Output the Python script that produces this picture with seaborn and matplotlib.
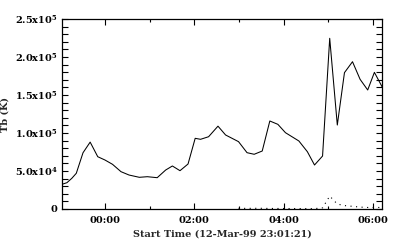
import matplotlib
matplotlib.use("Agg")
import matplotlib.pyplot as plt
import seaborn as sns
import pandas as pd
from matplotlib.ticker import MultipleLocator, FixedLocator, FixedFormatter

# hours relative to 00:00 on 13-Mar-99
t_solid = [-0.94, -0.85, -0.74, -0.64, -0.49, -0.33, -0.16, 0.00, 0.17, 0.36,
           0.54, 0.77, 0.95, 1.17, 1.36, 1.51, 1.68, 1.86, 2.02, 2.14,
           2.32, 2.53, 2.70, 2.99, 3.18, 3.34, 3.52, 3.69, 3.87, 4.04,
           4.34, 4.53, 4.69, 4.87, 5.03, 5.20, 5.36, 5.54, 5.71, 5.88,
           6.03, 6.20]
tb_solid = [32900, 34600, 40400, 47000, 74000, 88000, 68800, 64500, 58800, 49100,
            44700, 41700, 42500, 41200, 51300, 56600, 50400, 59200, 93000, 91700,
            95100, 109000, 97400, 88600, 74100, 72000, 76300, 115800, 111400, 100400,
            89500, 75400, 57900, 69700, 224600, 110500, 179400, 193800, 170600, 156600,
            179800, 161000]

t_dot = [2.99, 3.18, 3.34, 3.52, 3.69, 3.87, 4.04, 4.34, 4.53, 4.69,
         4.87, 5.03, 5.20, 5.36, 5.54, 5.71, 5.88, 6.03, 6.20]
tb_dot = [900, 800, 900, 900, 700, 700, 600, 600, 500, 500,
          1500, 17000, 6500, 4500, 3500, 2500, 2000, 2000, 2000]

x_ticks = [0, 2, 4, 6]
x_labels = ["00:00", "02:00", "04:00", "06:00"]
y_ticks = [0, 50000, 100000, 150000, 200000, 250000]
y_labels = ["0", "5.0x10$^4$", "1.0x10$^5$", "1.5x10$^5$", "2.0x10$^5$", "2.5x10$^5$"]

sns.set_style("ticks")
plt.rcParams["font.family"] = ["DejaVu Serif"]
plt.rcParams["font.weight"] = "bold"
plt.rcParams["mathtext.default"] = "regular"

fig = plt.figure(figsize=(4, 2.5), dpi=100)
ax = fig.add_axes([0.155, 0.164, 0.80, 0.76])

df1 = pd.DataFrame({"t": t_solid, "tb": tb_solid})
df2 = pd.DataFrame({"t": t_dot, "tb": tb_dot})
sns.lineplot(data=df1, x="t", y="tb", ax=ax, color="black", linewidth=0.75)
sns.lineplot(data=df2, x="t", y="tb", ax=ax, color="black", linewidth=0.8,
             linestyle=(0, (1, 4)))

ax.set_xlim(-0.96, 6.2)
ax.set_ylim(0, 250000)
ax.xaxis.set_major_locator(FixedLocator(x_ticks))
ax.xaxis.set_major_formatter(FixedFormatter(x_labels))
ax.xaxis.set_minor_locator(MultipleLocator(1))
ax.yaxis.set_major_locator(FixedLocator(y_ticks))
ax.yaxis.set_major_formatter(FixedFormatter(y_labels))
ax.yaxis.set_minor_locator(MultipleLocator(10000))

ax.tick_params(axis="both", which="both", direction="in", top=True, right=True,
               labelsize=7, colors="black", width=0.8)
ax.tick_params(axis="y", which="major", length=4, pad=3)
ax.tick_params(axis="y", which="minor", length=4)
ax.tick_params(axis="x", which="major", length=4, pad=5)
ax.tick_params(axis="x", which="minor", length=2)
for s in ax.spines.values():
    s.set_linewidth(0.9)
    s.set_color("black")

ax.set_xlabel("Start Time (12-Mar-99 23:01:21)", fontsize=7, fontweight="bold", labelpad=3)
ax.set_ylabel("Tb (K)", fontsize=7, fontweight="bold", labelpad=4)

fig.savefig("out.png", dpi=100)
